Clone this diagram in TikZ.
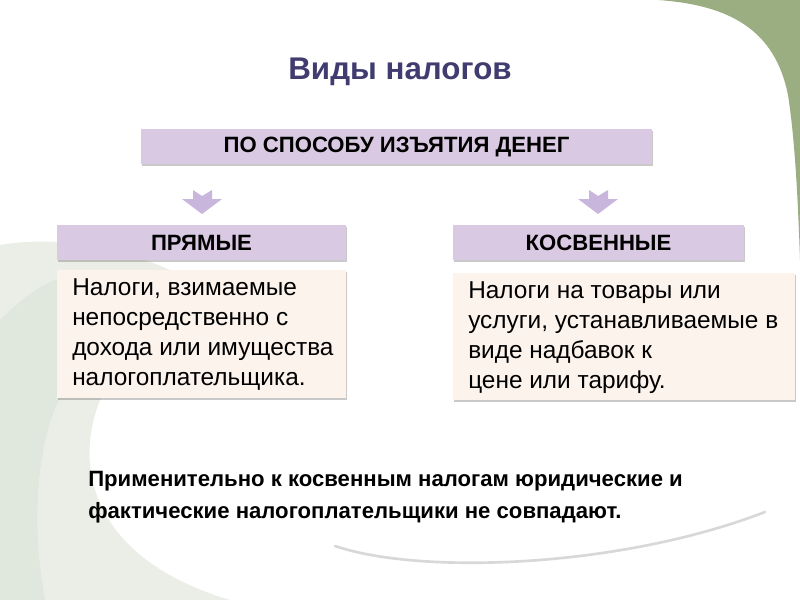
\documentclass[tikz,border=0pt]{standalone}
\usepackage{fontspec}
\setmainfont{Liberation Sans}
\usetikzlibrary{shadows}
\definecolor{lav}{RGB}{217,201,226}
\definecolor{arrowc}{RGB}{200,182,220}
\definecolor{peach}{RGB}{252,243,236}
\definecolor{sage}{RGB}{155,174,129}
\definecolor{titlec}{RGB}{64,60,112}
\definecolor{swirl}{RGB}{234,238,231}
\definecolor{swirlb}{RGB}{224,231,220}
\tikzset{
  boxshadow/.style={drop shadow={opacity=0.35,shadow xshift=0.8pt,shadow yshift=-1.2pt,fill=black!60}},
  headbox/.style={fill=lav,boxshadow,minimum height=26.25pt,inner sep=0pt,font=\bfseries\fontsize{16.6}{18}\selectfont},
  bodybox/.style={fill=peach,boxshadow,inner sep=0pt},
  bodytext/.style={anchor=west,align=left,inner sep=0pt,font=\fontsize{18.3}{22.5}\selectfont},
  downarrow/.style={fill=arrowc,draw=none},
}
\begin{document}
\begin{tikzpicture}[x=0.75pt,y=-0.75pt]
\useasboundingbox (0,0) rectangle (800,600);
\fill[white] (0,0) rectangle (800,600);
% background decoration
\fill[swirl] (0,245) .. controls (60,235) and (120,248) .. (170,270) -- (100,400) .. controls (72,470) and (95,560) .. (230,600) -- (0,600) -- cycle;
\fill[swirlb] (0,320) .. controls (20,300) and (40,285) .. (60,278) -- (60,398) .. controls (38,440) and (30,520) .. (45,600) -- (0,600) -- cycle;
\fill[sage] (658,0) .. controls (730,5) and (775,30) .. (788,95) .. controls (795,140) and (798,200) .. (800,260) -- (800,0) -- cycle;
\draw[black!25,line width=2pt,line cap=round,opacity=0.6] (335,546) .. controls (420,575) and (620,568) .. (765,512);
% title
\node[font=\bfseries\fontsize{23.5}{27}\selectfont,text=titlec] (title) at (400,72) {Виды налогов};
% boxes
\node[headbox,minimum width=383.25pt] (top) at (396.5,146.5) {ПО СПОСОБУ ИЗЪЯТИЯ ДЕНЕГ};
\node[headbox,minimum width=216.75pt] (lh) at (201.5,242.5) {ПРЯМЫЕ};
\node[headbox,minimum width=218.25pt] (rh) at (598.5,242.5) {КОСВЕННЫЕ};
\node[bodybox,minimum width=216.75pt,minimum height=96pt] (lb) at (201.5,334) {};
\node[bodybox,minimum width=256.5pt,minimum height=95.25pt] (rb) at (624,336.5) {};
\node[bodytext] (lbt) at (72,335) {Налоги, взимаемые\\непосредственно с\\дохода или имущества\\налогоплательщика.};
\node[bodytext] (rbt) at (468,337.5) {Налоги на товары или\\услуги, устанавливаемые в\\виде надбавок к\\цене или тарифу.};
% arrows
\foreach \ax/\nm in {202/la,598/ra}{
  \coordinate (\nm) at (\ax,201);
  \fill[downarrow] ([shift={(-9,-11)}]\nm) -- ([shift={(0,-5)}]\nm) -- ([shift={(10,-11)}]\nm) -- ([shift={(10,-2)}]\nm) -- ([shift={(20,-2)}]\nm) -- ([shift={(0,13)}]\nm) -- ([shift={(-20,-2)}]\nm) -- ([shift={(-9,-2)}]\nm) -- cycle;
}
% bottom note
\node[anchor=north west,align=left,font=\bfseries\fontsize{16.6}{24}\selectfont,inner sep=0pt] (note) at (88,471) {Применительно к косвенным налогам юридические и\\фактические налогоплательщики не совпадают.};
\end{tikzpicture}
\end{document}
